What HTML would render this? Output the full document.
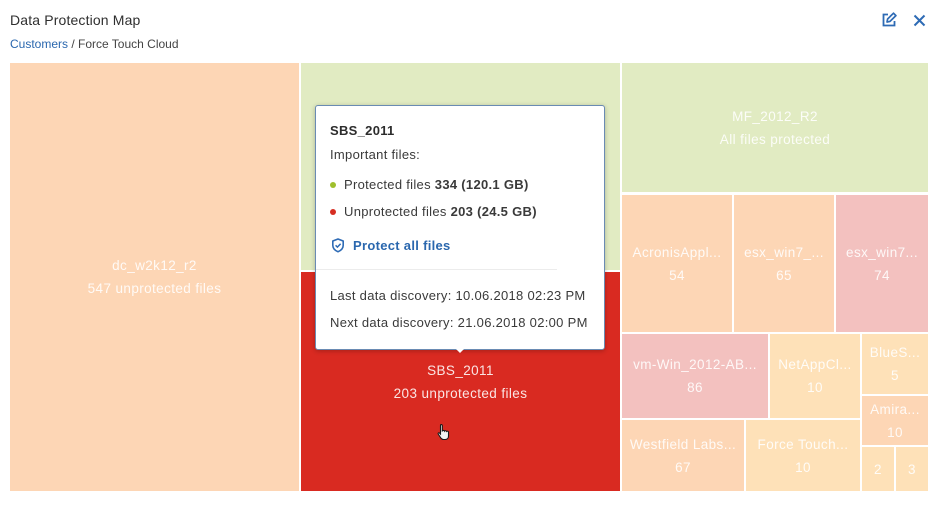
<!DOCTYPE html>
<html><head><meta charset="utf-8">
<style>
html,body{margin:0;padding:0;background:#fff;}
body{width:938px;height:510px;position:relative;overflow:hidden;font-family:"Liberation Sans",Arial,sans-serif;color:#333;}
.title{position:absolute;left:10px;top:12px;font-size:14px;color:#2f2f2f;letter-spacing:0.15px;}
.crumb{position:absolute;left:10px;top:37px;font-size:12px;color:#444;}
.crumb span{color:#2a67ae;}
.t{position:absolute;display:flex;flex-direction:column;align-items:center;justify-content:center;color:rgba(255,255,255,0.88);font-size:13.5px;letter-spacing:0.4px;line-height:23px;text-align:center;overflow:hidden;white-space:nowrap;}
.peach{background:#fdd6b5;}
.green{background:#e1ebc2;}
.red{background:#d92a21;}
.pink{background:#f3c1bf;}
.yel{background:#fee1b8;}
.tip{position:absolute;left:315px;top:105px;width:288px;height:243px;background:#fff;border:1px solid #6a8bb3;border-radius:3px;box-shadow:0 1px 5px rgba(0,0,0,0.25);}
.tip .l{position:absolute;left:14px;font-size:13px;letter-spacing:0.3px;color:#3a3a3a;white-space:nowrap;}
.dot{display:inline-block;width:6px;height:6px;border-radius:50%;margin-right:8px;vertical-align:middle;position:relative;top:-1px;}
</style></head><body>
<div class="title">Data Protection Map</div>
<div class="crumb"><span>Customers</span> / Force Touch Cloud</div>
<svg style="position:absolute;left:881px;top:12px" width="16" height="16" viewBox="0 0 16 16">
<path d="M7 2.5H2.5v11h11V9" fill="none" stroke="#2e6bb5" stroke-width="1.8"/>
<path d="M6 10l0.6-3L12.5 1.2l2.4 2.4L9 9.4z" fill="none" stroke="#2e6bb5" stroke-width="1.7" stroke-linejoin="round"/>
</svg>
<svg style="position:absolute;left:913px;top:14px" width="13" height="13" viewBox="0 0 13 13">
<path d="M1.5 1.5l10 10M11.5 1.5l-10 10" stroke="#2e6bb5" stroke-width="2"/>
</svg>

<div class="t peach" style="left:10px;top:63px;width:289px;height:428px"><div>dc_w2k12_r2</div><div>547 unprotected files</div></div>
<div class="t green" style="left:301px;top:63px;width:319px;height:207px"></div>
<div class="t red" style="left:301px;top:272px;width:319px;height:219px"><div>SBS_2011</div><div>203 unprotected files</div></div>
<div class="t green" style="left:622px;top:63px;width:306px;height:129px"><div>MF_2012_R2</div><div>All files protected</div></div>
<div class="t peach" style="left:622px;top:195px;width:110px;height:137px"><div>AcronisAppl...</div><div>54</div></div>
<div class="t peach" style="left:734px;top:195px;width:100px;height:137px"><div>esx_win7_...</div><div>65</div></div>
<div class="t pink" style="left:836px;top:195px;width:92px;height:137px"><div>esx_win7...</div><div>74</div></div>
<div class="t pink" style="left:622px;top:334px;width:146px;height:84px"><div>vm-Win_2012-AB...</div><div>86</div></div>
<div class="t yel" style="left:770px;top:334px;width:90px;height:84px"><div>NetAppCl...</div><div>10</div></div>
<div class="t yel" style="left:862px;top:334px;width:66px;height:60px"><div>BlueS...</div><div>5</div></div>
<div class="t peach" style="left:862px;top:396px;width:66px;height:49px"><div>Amira...</div><div>10</div></div>
<div class="t yel" style="left:862px;top:447px;width:32px;height:44px"><div>2</div></div>
<div class="t yel" style="left:896px;top:447px;width:32px;height:44px"><div>3</div></div>
<div class="t peach" style="left:622px;top:420px;width:122px;height:71px"><div>Westfield Labs...</div><div>67</div></div>
<div class="t yel" style="left:746px;top:420px;width:114px;height:71px"><div>Force Touch...</div><div>10</div></div>

<svg style="position:absolute;left:437px;top:423px" width="14" height="18" viewBox="0 0 14 18">
<path d="M4 1.5c.8 0 1.3.5 1.3 1.3V8l.2-.1c.3-.6 1.8-.6 2 .2.3-.5 1.8-.5 2 .3.4-.4 1.9-.3 2 .7V13c0 2-1.3 3.5-3.3 3.5H6.5c-1.2 0-2-.6-2.7-1.6L1.2 11c-.5-.8.6-1.7 1.4-.9l.9 1V2.8c0-.8.2-1.3.5-1.3z" fill="#f4f4f4" stroke="#1a1a1a" stroke-width="1.1"/>
</svg>

<div class="tip">
<div class="l" style="top:17px;font-weight:bold;color:#2c2c2c">SBS_2011</div>
<div class="l" style="top:41px">Important files:</div>
<div class="l" style="top:71px"><span class="dot" style="background:#9fbf2d"></span>Protected files <b>334 (120.1 GB)</b></div>
<div class="l" style="top:98px"><span class="dot" style="background:#d62d22"></span>Unprotected files <b>203 (24.5 GB)</b></div>
<svg style="position:absolute;left:15px;top:132px" width="14" height="15" viewBox="0 0 14 15">
<path d="M7 1L1.8 3v4.2c0 3 2.2 5.3 5.2 6.5 3-1.2 5.2-3.5 5.2-6.5V3z" fill="none" stroke="#2e6bb5" stroke-width="1.6" stroke-linejoin="round"/>
<path d="M4.6 7.3l1.8 1.8 3.2-3.3" fill="none" stroke="#2e6bb5" stroke-width="1.5"/>
</svg>
<div class="l" style="top:132px;left:37px;color:#2a67ae;font-weight:bold">Protect all files</div>
<div style="position:absolute;left:0;top:163px;width:241px;height:1px;background:#ececec"></div>
<div class="l" style="top:182px">Last data discovery: 10.06.2018 02:23 PM</div>
<div class="l" style="top:209px">Next data discovery: 21.06.2018 02:00 PM</div>
<div style="position:absolute;left:139px;top:242px;width:0;height:0;border-left:5px solid transparent;border-right:5px solid transparent;border-top:5px solid #fff"></div>
</div>
</body></html>
